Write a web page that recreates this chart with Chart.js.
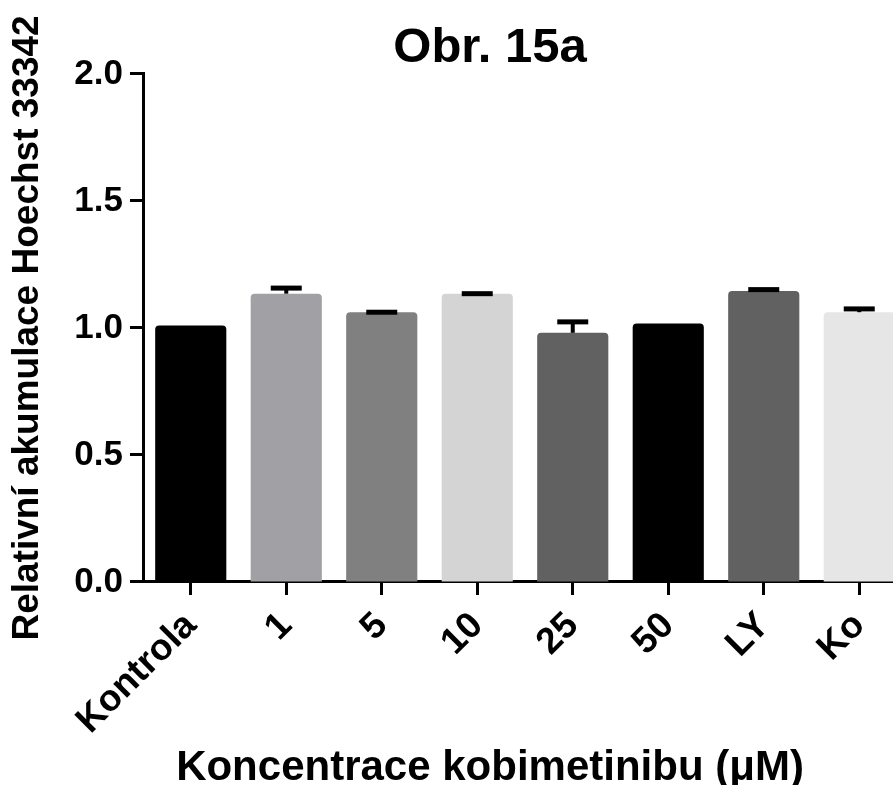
<!DOCTYPE html>
<html>
<head>
<meta charset="utf-8">
<script src="https://cdn.jsdelivr.net/npm/chart.js@4"></script>
<style>
  html, body { margin: 0; padding: 0; overflow: hidden; background: #fff; }
  #wrap { width: 980px; height: 785px; }
</style>
</head>
<body>
<div id="wrap"><canvas id="chart" width="980" height="785"></canvas></div>
<script>
const categories = ['Kontrola', '1', '5', '10', '25', '50', 'LY', 'Ko']
const values = [1.01, 1.135, 1.062, 1.135, 0.981, 1.018, 1.146, 1.062]
const errors = [null, 0.022, 0, 0, 0.043, null, 0.005, 0.013]
const barColors = ['#000000', '#a1a0a5', '#808080', '#d4d4d4', '#616161', '#000000', '#616161', '#e6e6e6']
const yTicks = [0, 0.5, 1.0, 1.5, 2.0]

const FONT = "'Liberation Sans', Arial, Helvetica, sans-serif"

// error bars drawn above each bar (value -> value + error)
const errorBars = {
  id: 'errorBars',
  afterDatasetsDraw(chart) {
    const ctx = chart.ctx
    const y = chart.scales.y
    const meta = chart.getDatasetMeta(0)
    ctx.save()
    ctx.strokeStyle = '#000'
    meta.data.forEach((bar, i) => {
      const err = errors[i]
      if (err === null) return
      const y0 = y.getPixelForValue(values[i])
      const y1 = y.getPixelForValue(values[i] + err)
      ctx.lineWidth = 4
      ctx.beginPath()
      ctx.moveTo(bar.x, y0)
      ctx.lineTo(bar.x, y1)
      ctx.stroke()
      ctx.lineWidth = 5
      ctx.beginPath()
      ctx.moveTo(bar.x - 15.5, y1)
      ctx.lineTo(bar.x + 15.5, y1)
      ctx.stroke()
    })
    ctx.restore()
  },
}

const ctx = document.getElementById('chart').getContext('2d')
const myChart = new Chart(ctx, {
  type: 'bar',
  data: {
    labels: categories,
    datasets: [
      {
        data: values,
        backgroundColor: barColors,
        borderWidth: 0,
        borderRadius: 4,
        barPercentage: 0.745,
        categoryPercentage: 1,
      },
    ],
  },
  options: {
    responsive: false,
    animation: false,
    devicePixelRatio: 1,
    // left padding keeps both titles centred where the original has them
    layout: { padding: { left: 73, right: 73, top: 0, bottom: 0 } },
    plugins: {
      legend: { display: false },
      tooltip: { enabled: false },
      title: {
        display: true,
        text: 'Obr. 15a',
        color: '#000',
        font: { family: FONT, size: 49, weight: 'bold', lineHeight: 1.04 },
        padding: { top: 23, bottom: 0 },
      },
      subtitle: {
        display: true,
        position: 'bottom',
        text: 'Koncentrace kobimetinibu (\u03bcM)',
        color: '#000',
        font: { family: FONT, size: 42, weight: 'bold', lineHeight: 0.81 },
        padding: { top: 0, bottom: 0 },
      },
    },
    scales: {
      x: {
        offset: true,
        afterFit: (scale) => { scale.height = 169 },
        border: { display: true, color: '#000', width: 3 },
        grid: {
          offset: false,
          drawOnChartArea: false,
          color: '#000',
          tickLength: 13,
          tickWidth: 3,
        },
        ticks: {
          color: '#000',
          font: { family: FONT, size: 37, weight: 'bold' },
          maxRotation: 45,
          minRotation: 45,
          padding: 9,
          autoSkip: false,
        },
      },
      y: {
        min: 0,
        max: 2,
        afterFit: (scale) => { scale.width = 70 },
        afterBuildTicks: (scale) => {
          scale.ticks = yTicks.map((v) => ({ value: v }))
        },
        border: { display: true, color: '#000', width: 3 },
        grid: {
          drawOnChartArea: false,
          color: '#000',
          tickLength: 13,
          tickWidth: 3,
        },
        ticks: {
          color: '#000',
          font: { family: FONT, size: 35, weight: 'bold' },
          padding: 7,
          callback: (v) => Number(v).toFixed(1),
        },
        title: {
          display: true,
          text: 'Relativn\u00ed akumulace Hoechst 33342',
          color: '#000',
          font: { family: FONT, size: 37, weight: 'bold', lineHeight: 1.2 },
          padding: { top: -67, bottom: 0 },
        },
      },
    },
  },
  plugins: [errorBars],
})
</script>
</body>
</html>
